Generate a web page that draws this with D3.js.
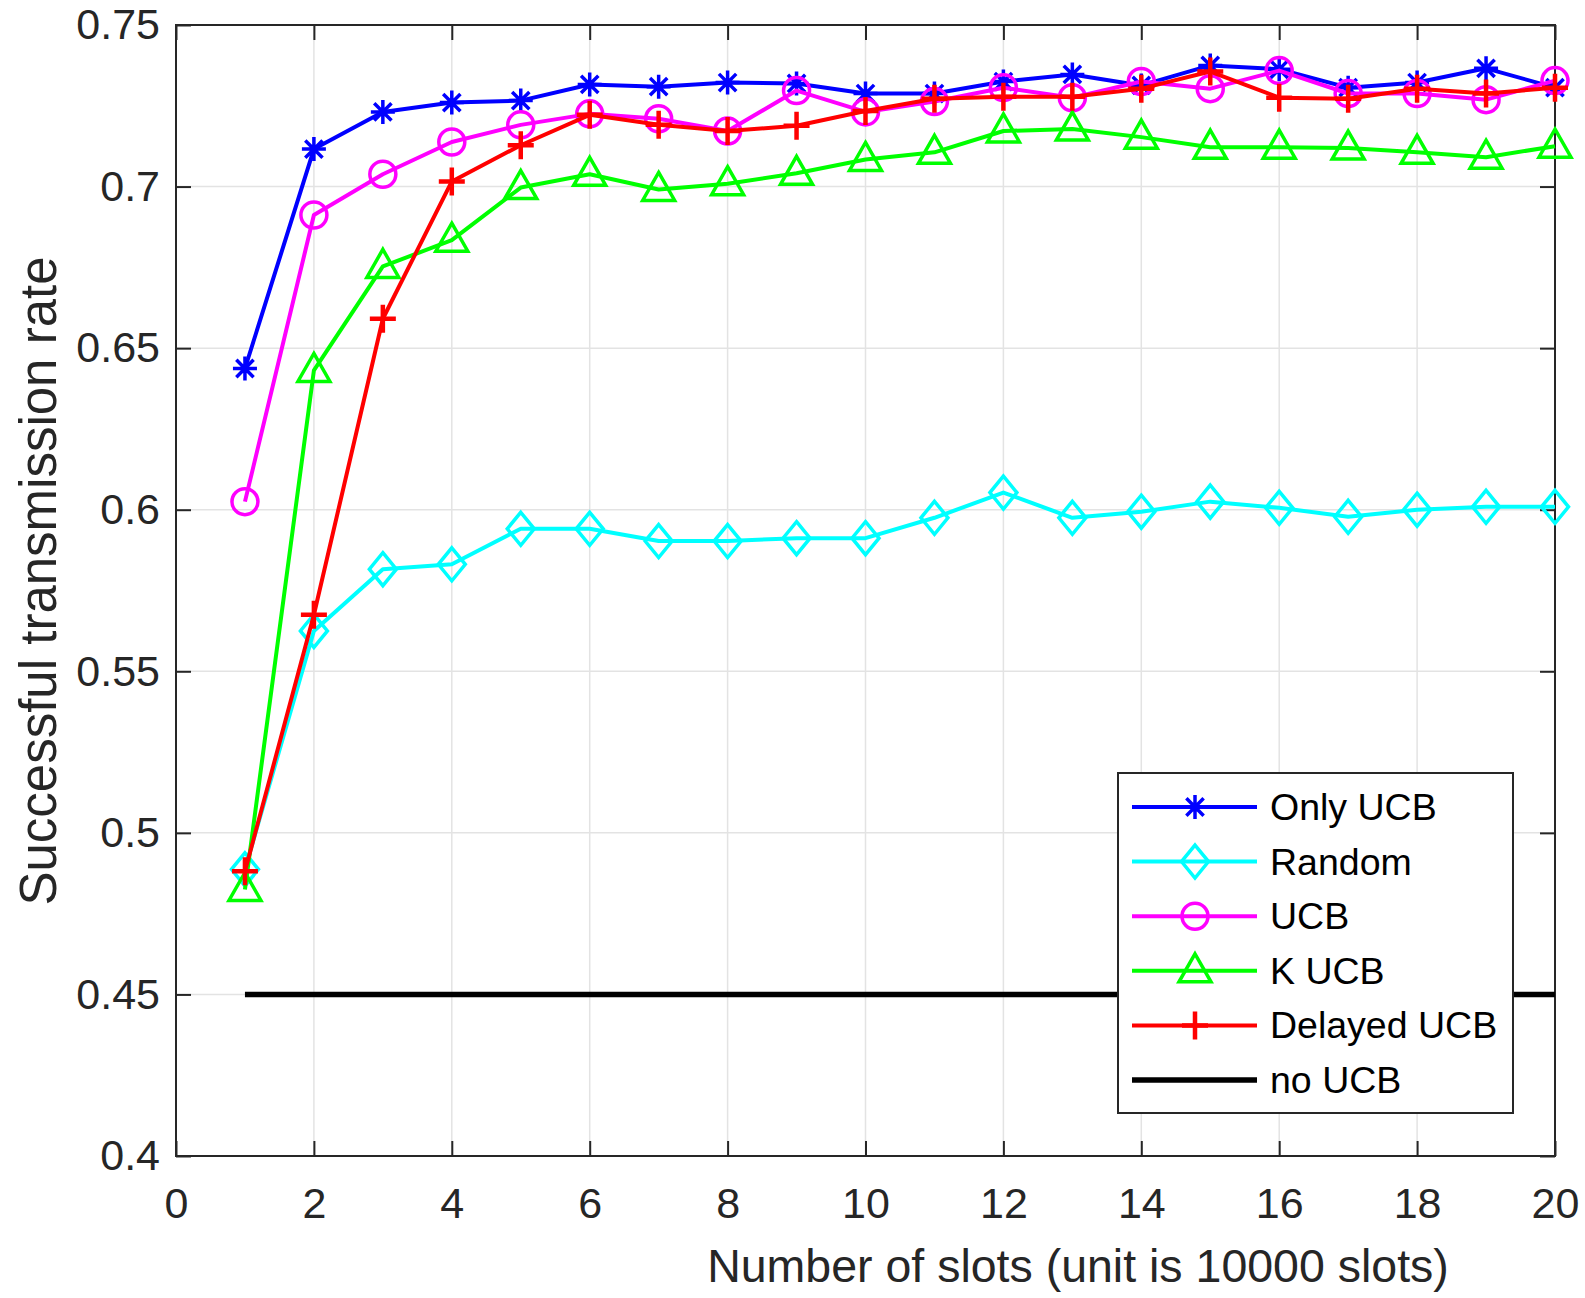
<!DOCTYPE html>
<html>
<head>
<meta charset="utf-8">
<script src="https://cdn.jsdelivr.net/npm/d3@7"></script>
<style>
  body { margin: 0; background: #fff; }
  text { font-family: "Liberation Sans", Arial, sans-serif; fill: #262626; }
</style>
</head>
<body>
<svg width="1585" height="1298"></svg>
<script>
// data
var slots = [1, 2, 3, 4, 5, 6, 7, 8, 9, 10, 11, 12, 13, 14, 15, 16, 17, 18, 19, 20];
var onlyUCB = [0.6437, 0.7116, 0.7231, 0.7260, 0.7266, 0.7316, 0.7309, 0.7322, 0.7319, 0.7288,
               0.7288, 0.7325, 0.7347, 0.7313, 0.7375, 0.7363, 0.7306, 0.7322, 0.7366, 0.7306];
var randomSel = [0.4887, 0.5625, 0.5816, 0.5831, 0.5941, 0.5941, 0.5903, 0.5903, 0.5912, 0.5912,
                 0.5975, 0.6053, 0.5975, 0.5994, 0.6025, 0.6006, 0.5978, 0.6000, 0.6009, 0.6009];
var ucb = [0.6025, 0.6912, 0.7038, 0.7138, 0.7191, 0.7225, 0.7210, 0.7172, 0.7297, 0.7231,
           0.7263, 0.7306, 0.7275, 0.7325, 0.7303, 0.7359, 0.7288, 0.7288, 0.7269, 0.7328];
var kUCB = [0.4825, 0.6431, 0.6753, 0.6834, 0.6997, 0.7038, 0.6991, 0.7009, 0.7041, 0.7084,
            0.7106, 0.7172, 0.7178, 0.7153, 0.7122, 0.7122, 0.7119, 0.7106, 0.7091, 0.7125];
var delayedUCB = [0.4881, 0.5675, 0.6591, 0.7016, 0.7128, 0.7222, 0.7191, 0.7172, 0.7188, 0.7234,
                  0.7272, 0.7278, 0.7278, 0.7303, 0.7356, 0.7275, 0.7272, 0.7303, 0.7288, 0.7306];
var noUCB = [0.45, 0.45, 0.45, 0.45, 0.45, 0.45, 0.45, 0.45, 0.45, 0.45,
             0.45, 0.45, 0.45, 0.45, 0.45, 0.45, 0.45, 0.45, 0.45, 0.45];

var seriesNames = ["Only UCB", "Random", "UCB", "K UCB", "Delayed UCB", "no UCB"];
var seriesColors = ["#0000ff", "#00ffff", "#ff00ff", "#00ff00", "#ff0000", "#000000"];
var seriesMarkers = ["star", "diamond", "circle", "triangle", "plus", "none"];
var seriesValues = [onlyUCB, randomSel, ucb, kUCB, delayedUCB, noUCB];

var xTicks = [0, 2, 4, 6, 8, 10, 12, 14, 16, 18, 20];
var yTicks = [0.4, 0.45, 0.5, 0.55, 0.6, 0.65, 0.7, 0.75];

var svg = d3.select("svg");
var plotLeft = 176, plotRight = 1555, plotTop = 25, plotBottom = 1156;
var axisColor = "#262626";

var x = d3.scaleLinear().domain([0, 20]).range([plotLeft, plotRight]);
var y = d3.scaleLinear().domain([0.4, 0.75]).range([plotBottom, plotTop]);

// grid
var grid = svg.append("g");
grid.selectAll(".gx").data(xTicks).enter().append("line")
  .attr("x1", function(d) { return x(d); }).attr("x2", function(d) { return x(d); })
  .attr("y1", plotTop).attr("y2", plotBottom)
  .style("stroke", "#e3e3e3").style("stroke-width", 1.5);
grid.selectAll(".gy").data(yTicks).enter().append("line")
  .attr("x1", plotLeft).attr("x2", plotRight)
  .attr("y1", function(d) { return y(d); }).attr("y2", function(d) { return y(d); })
  .style("stroke", "#e3e3e3").style("stroke-width", 1.5);

// axes (box with inner ticks, matlab style)
var tickLen = 15;
var xAxisB = d3.axisBottom(x).tickValues(xTicks).tickSize(-tickLen).tickPadding(31).tickFormat(d3.format("d"));
var xAxisT = d3.axisTop(x).tickValues(xTicks).tickSize(-tickLen).tickFormat("");
var yAxisL = d3.axisLeft(y).tickValues(yTicks).tickSize(-tickLen).tickPadding(16)
  .tickFormat(function(d) { return String(+d.toFixed(2)); });
var yAxisR = d3.axisRight(y).tickValues(yTicks).tickSize(-tickLen).tickFormat("");

function styleAxis(g) {
  g.select(".domain").remove();
  g.selectAll(".tick line").style("stroke", axisColor).style("stroke-width", 2);
  g.selectAll(".tick text").style("font-size", "43px").style("fill", axisColor)
    .style("font-family", "'Liberation Sans', Arial, sans-serif");
}

svg.append("g").attr("transform", "translate(0," + plotBottom + ")").call(xAxisB).call(styleAxis);
svg.append("g").attr("transform", "translate(0," + plotTop + ")").call(xAxisT).call(styleAxis);
svg.append("g").attr("transform", "translate(" + plotLeft + ",0)").call(yAxisL).call(styleAxis);
svg.append("g").attr("transform", "translate(" + plotRight + ",0)").call(yAxisR).call(styleAxis);
svg.append("rect").attr("x", plotLeft).attr("y", plotTop)
  .attr("width", plotRight - plotLeft).attr("height", plotBottom - plotTop)
  .style("fill", "none").style("stroke", axisColor).style("stroke-width", 2);

// labels
svg.append("text")
  .attr("x", 1078).attr("y", 1282)
  .attr("text-anchor", "middle")
  .style("font-size", "46.5px")
  .text("Number of slots (unit is 10000 slots)");

svg.append("text")
  .attr("transform", "translate(56,581) rotate(-90)")
  .attr("text-anchor", "middle")
  .style("font-size", "51px")
  .text("Successful transmission rate");

// markers
function markerPath(type) {
  var p = d3.path();
  if (type == "star") {
    var r = 12, q = r * 0.72;
    p.moveTo(-r, 0); p.lineTo(r, 0);
    p.moveTo(0, -r); p.lineTo(0, r);
    p.moveTo(-q, -q); p.lineTo(q, q);
    p.moveTo(-q, q); p.lineTo(q, -q);
  } else if (type == "diamond") {
    p.moveTo(0, -16.5); p.lineTo(13.5, 0); p.lineTo(0, 16.5); p.lineTo(-13.5, 0); p.closePath();
  } else if (type == "circle") {
    p.arc(0, 0, 13, 0, 2 * Math.PI);
  } else if (type == "triangle") {
    p.moveTo(0, -17); p.lineTo(16, 11); p.lineTo(-16, 11); p.closePath();
  } else if (type == "plus") {
    p.moveTo(-13, 0); p.lineTo(13, 0);
    p.moveTo(0, -14); p.lineTo(0, 14);
  }
  return p.toString();
}

var line = d3.line()
  .x(function(d) { return x(d.x); })
  .y(function(d) { return y(d.y); });

seriesValues.forEach(function(vals, i) {
  var pts = slots.map(function(s, j) { return { x: s, y: vals[j] }; });
  var g = svg.append("g");
  g.append("path")
    .datum(pts)
    .attr("d", line)
    .style("fill", "none")
    .style("stroke", seriesColors[i])
    .style("stroke-width", seriesMarkers[i] == "none" ? 5.5 : 4)
    .style("stroke-linejoin", "round");
  if (seriesMarkers[i] != "none") {
    g.selectAll(".m").data(pts).enter().append("path")
      .attr("transform", function(d) { return "translate(" + x(d.x) + "," + y(d.y) + ")"; })
      .attr("d", markerPath(seriesMarkers[i]))
      .style("fill", "none")
      .style("stroke", seriesColors[i])
      .style("stroke-width", seriesMarkers[i] == "plus" ? 4.5 : 3.5);
  }
});

// legend
var lg = svg.append("g");
lg.append("rect")
  .attr("x", 1118).attr("y", 773).attr("width", 395).attr("height", 340)
  .style("fill", "#fff").style("stroke", axisColor).style("stroke-width", 2);

var rowY = d3.scaleLinear().domain([0, 5]).range([807, 1080]);
seriesNames.forEach(function(name, i) {
  var cy = rowY(i);
  lg.append("line")
    .attr("x1", 1132).attr("x2", 1257).attr("y1", cy).attr("y2", cy)
    .style("stroke", seriesColors[i])
    .style("stroke-width", seriesMarkers[i] == "none" ? 5.5 : 4);
  if (seriesMarkers[i] != "none") {
    lg.append("path")
      .attr("transform", "translate(1195," + cy + ")")
      .attr("d", markerPath(seriesMarkers[i]))
      .style("fill", "none")
      .style("stroke", seriesColors[i])
      .style("stroke-width", seriesMarkers[i] == "plus" ? 4.5 : 3.5);
  }
  lg.append("text")
    .attr("x", 1270).attr("y", cy + 13)
    .style("font-size", "37.5px")
    .style("fill", "#000")
    .text(name);
});
</script>
</body>
</html>
